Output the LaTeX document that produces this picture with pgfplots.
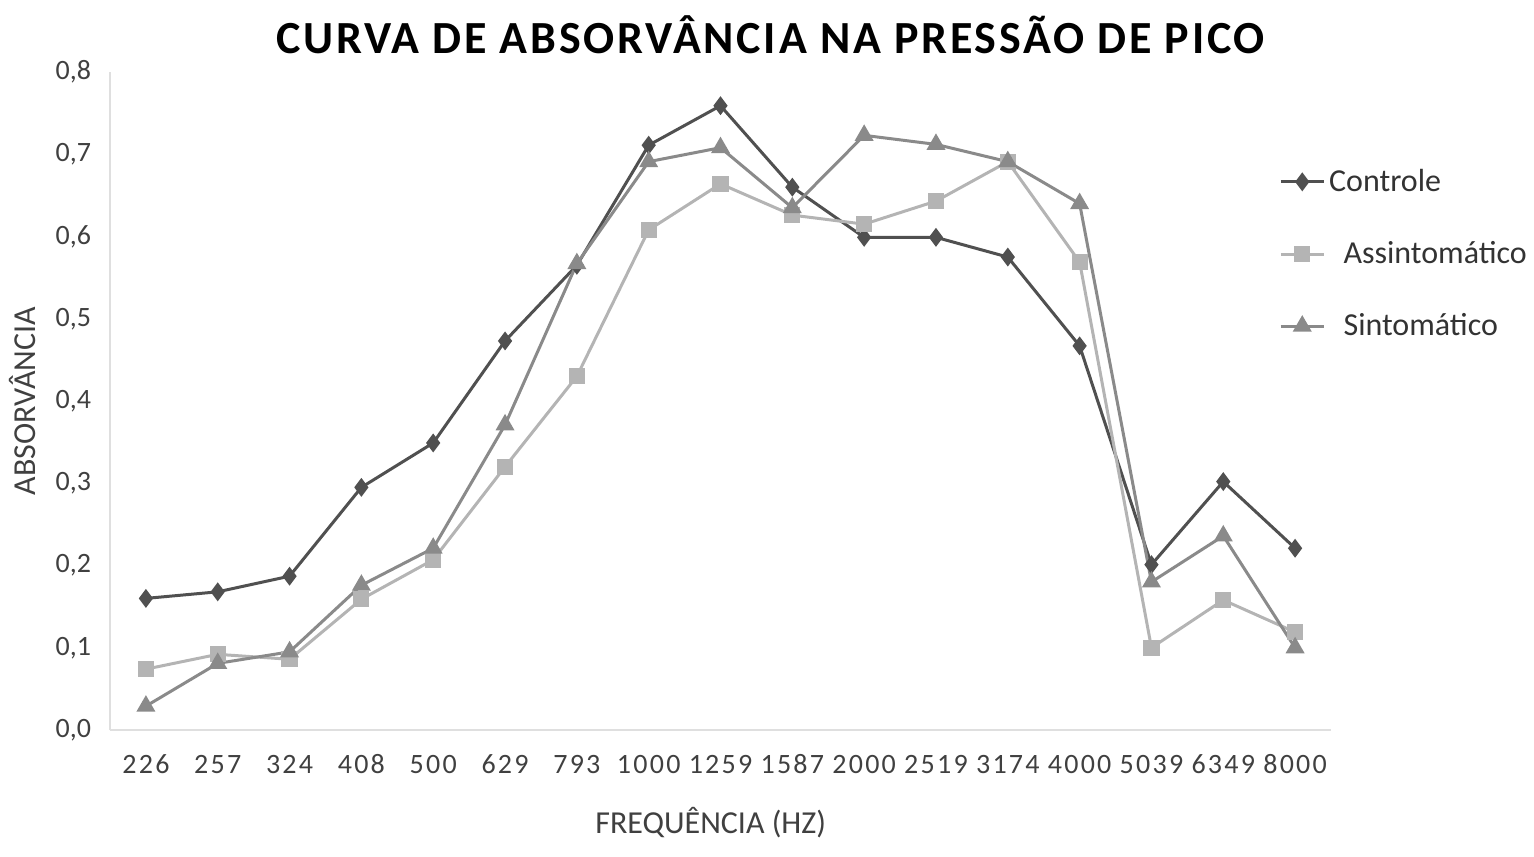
\documentclass[border=0pt]{standalone}
\usepackage{fontspec}
\setmainfont{Carlito}
\newfontfamily\titlefont[LetterSpace=6]{Carlito}
\newfontfamily\tickfont[LetterSpace=8]{Carlito}
\usepackage{pgfplots}
\pgfplotsset{compat=1.18}

\definecolor{ctrl}{HTML}{505050}
\definecolor{assi}{HTML}{B4B4B4}
\definecolor{sint}{HTML}{8A8A8A}

\begin{document}
\begin{tikzpicture}
\useasboundingbox (-55pt,-63pt) rectangle (712pt,365pt);
\begin{axis}[
  scale only axis,
  width=610.5pt, height=329pt,
  xmin=-0.5, xmax=16.5,
  ymin=0, ymax=0.8,
  axis x line*=bottom, axis y line*=left,
  axis line style={gray!25, line width=0.8pt},
  major tick length=0pt,
  xtick={0,...,16},
  xticklabels={226,257,324,408,500,629,793,1000,1259,1587,2000,2519,3174,4000,5039,6349,8000},
  ytick={0,0.1,...,0.8},
  /pgf/number format/fixed,
  /pgf/number format/fixed zerofill,
  /pgf/number format/precision=1,
  /pgf/number format/use comma,
  /pgf/number format/assume math mode=true,
  yticklabel style={font=\fontsize{14}{16}\selectfont, text=black!75, xshift=-6pt},
  xticklabel style={font=\tickfont\fontsize{14}{16}\selectfont, text=black!75, text height=9pt, text depth=0pt, yshift=-9pt},
  xlabel={FREQUÊNCIA (HZ)},
  ylabel={ABSORVÂNCIA},
  xlabel style={font=\fontsize{16}{18}\selectfont, text=black!75, at={(axis description cs:0.492,0)}, anchor=center, yshift=-46.5pt},
  ylabel style={font=\fontsize{16}{18}\selectfont, text=black!75, at={(axis description cs:-0.072,0.5)}, anchor=center},
  legend style={at={(rel axis cs:1,0.865)}, anchor=north west, draw=none, fill=none,
    font=\fontsize{16}{18}\selectfont, row sep=19.5pt, xshift=-29pt,
    nodes={text=black!80}},
  legend cell align=left,
  legend image code/.code={
    \draw[#1, line width=1.5pt] (0cm,0cm) -- (0.75cm,0cm);
    \draw[#1, mark repeat=2, mark phase=2] plot coordinates {(0cm,0cm) (0.375cm,0cm) (0.75cm,0cm)};
  },
  clip=false,
]
\addplot[ctrl, line width=1.5pt, mark=diamond*, mark size=3.5pt, mark options={fill=ctrl, draw=ctrl}] coordinates {
  (0,0.160) (1,0.168) (2,0.187) (3,0.295) (4,0.349) (5,0.473) (6,0.565) (7,0.711)
  (8,0.759) (9,0.660) (10,0.599) (11,0.599) (12,0.575) (13,0.467) (14,0.201) (15,0.302) (16,0.221)
};
\addlegendentry{Controle}
\addplot[assi, line width=1.5pt, mark=square*, mark size=3.3pt, mark options={fill=assi, draw=assi}] coordinates {
  (0,0.074) (1,0.092) (2,0.086) (3,0.159) (4,0.207) (5,0.320) (6,0.430) (7,0.608)
  (8,0.664) (9,0.626) (10,0.615) (11,0.643) (12,0.691) (13,0.569) (14,0.100) (15,0.158) (16,0.119)
};
\addlegendentry{\ \ Assintomático}
\addplot[sint, line width=1.5pt, mark=triangle*, mark size=4pt, mark options={fill=sint, draw=sint}] coordinates {
  (0,0.029) (1,0.081) (2,0.095) (3,0.176) (4,0.221) (5,0.371) (6,0.567) (7,0.691)
  (8,0.708) (9,0.635) (10,0.723) (11,0.712) (12,0.691) (13,0.640) (14,0.180) (15,0.236) (16,0.100)
};
\addlegendentry{\ \ Sintomático}
\node[font=\titlefont\bfseries\fontsize{23}{26}\selectfont, anchor=center] at (rel axis cs:0.541,1) [yshift=18.5pt] {CURVA DE ABSORVÂNCIA NA PRESSÃO DE PICO};
\end{axis}
\end{tikzpicture}
\end{document}
